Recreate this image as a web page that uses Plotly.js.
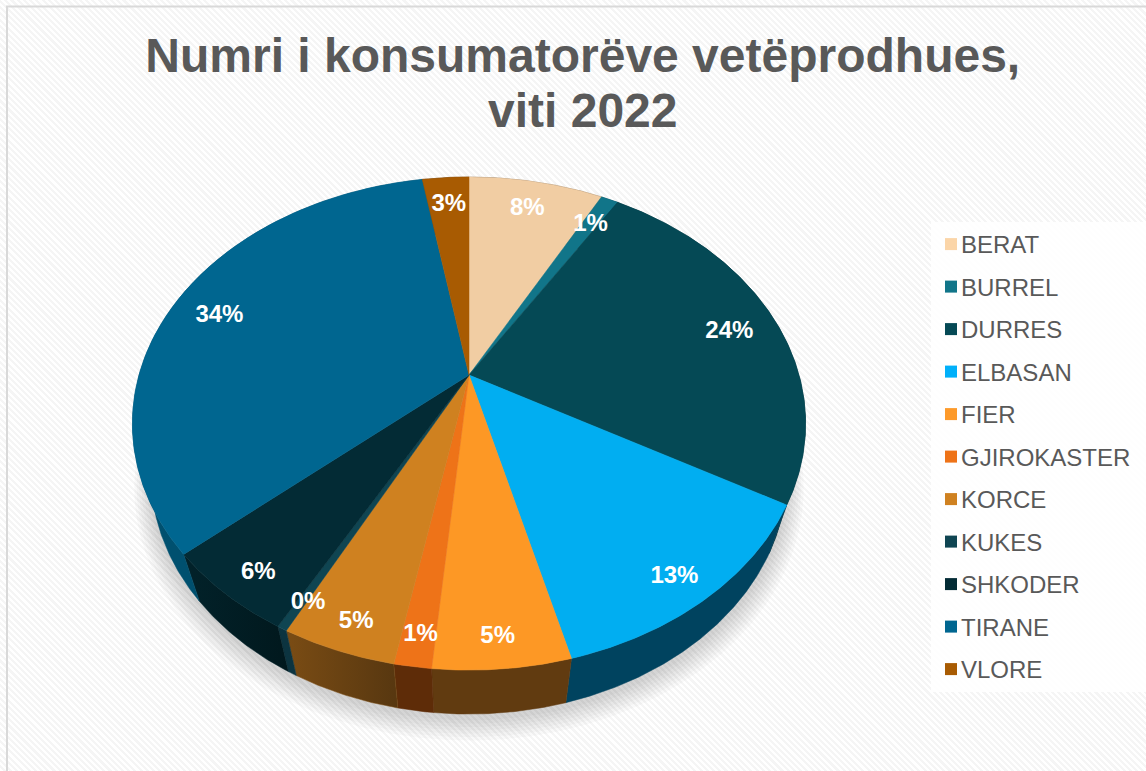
<!DOCTYPE html>
<html>
<head>
<meta charset="utf-8">
<script src="https://cdn.plot.ly/plotly-3.0.1.min.js"></script>
<style>
html,body{margin:0;padding:0;width:1146px;height:771px;overflow:hidden;
background:repeating-linear-gradient(45deg,#ffffff 0 2.2px,#f5f5f5 2.2px 4.4px);}
#chart{width:1146px;height:771px;}
</style>
</head>
<body>
<div id="chart"></div>
<script>
// ---- data ----
var categories = ['BERAT','BURREL','DURRES','ELBASAN','FIER','GJIROKASTER','KORCE','KUKES','SHKODER','TIRANE','VLORE'];
var shares = [7.8,1.0,24.4,12.7,5.49,1.49,4.6,0.4,5.6,33.7,2.7];
var percentLabels = ['8%','1%','24%','13%','5%','1%','5%','0%','6%','34%','3%'];
// ---- colours ----
var topColors = ['#F1CDA3','#117589','#054955','#01AEF1','#FD9825','#EE7318','#CF8120','#0F4552','#032B35','#006690','#A85B02'];
var legendColors = ['#FBD5A8','#117589','#054955','#00B0FA','#FD9A2A','#EE7318','#CF8120','#0F4552','#032B35','#006690','#A85B02'];
var wallColorsA = ['#7A6650','#0A3A44','#03303A','#00435F','#613B10','#5E2C08','#7A4C14','#0C3440','#02222A','#00506F','#5A3001'];
var wallColorsB = ['#7A6650','#0A3A44','#03303A','#00435F','#613B10','#5E2C08','#573710','#0C3440','#01181D','#00506F','#5A3001'];

// ---- perspective view of the disc ----
var view = {cx:469, cy:375, a:330, b:237, k:0.197, wallCy:426.6, wallSx:0.945, wallSy:0.974};
function project(theta, r){
  var u = r*Math.sin(theta), v = r*Math.cos(theta), d = 1 + view.k*v;
  return {X: view.a*u/d, Y: -view.b*v/d};
}
function topPt(theta, r){ var p = project(theta,r); return [view.cx+p.X, view.cy+p.Y]; }
function botPt(theta, grow, dy){
  var p = project(theta,1);
  return [view.cx+(view.wallSx*p.X)*(grow||1), view.wallCy+(view.wallSy*p.Y)*(grow||1)+(dy||0)];
}
function labelPt(theta){
  var p = project(theta,0.875);
  var xs = p.Y < 60 ? 0.97 : 1.01;
  return [view.cx+p.X*xs, view.cy+p.Y+6.5+Math.max(0,p.Y)*0.025];
}
function arc(t0,t1,fn){
  var n = Math.max(2, Math.ceil(Math.abs(t1-t0)/(Math.PI/360))), out=[];
  for(var i=0;i<=n;i++){ out.push(fn(t0+(t1-t0)*i/n)); }
  return out;
}
var total = shares.reduce(function(s,v){return s+v;},0);
var traces = [];

// soft shadow under the disc
for(var s=1;s<=7;s++){
  var ring = arc(0,2*Math.PI,function(t){return botPt(t,1+s*0.0075,3+s*1.2);});
  traces.push({type:'scatter',mode:'lines',x:ring.map(function(p){return p[0];}),y:ring.map(function(p){return p[1];}),
    fill:'toself',fillcolor:'rgba(0,0,0,0.024)',line:{width:0},hoverinfo:'skip',showlegend:false});
}

// side walls, then top faces
var cum = 0, bounds = [];
shares.forEach(function(v){ var a0=cum/total*2*Math.PI; cum+=v; bounds.push([a0,cum/total*2*Math.PI]); });

categories.forEach(function(name,i){
  var b = bounds[i];
  var pts = arc(b[0],b[1],function(t){return topPt(t,1);}).concat(arc(b[1],b[0],function(t){return botPt(t);}));
  pts.push(pts[0]);
  var tr = {type:'scatter',mode:'lines',x:pts.map(function(p){return p[0];}),y:pts.map(function(p){return p[1];}),
    fill:'toself',line:{width:0.5,color:wallColorsA[i]},hoverinfo:'skip',showlegend:false};
  if(wallColorsA[i]!==wallColorsB[i]){
    tr.fillgradient={type:'horizontal',colorscale:[[0,wallColorsA[i]],[1,wallColorsB[i]]]};
  } else { tr.fillcolor=wallColorsA[i]; }
  traces.push(tr);
});

categories.forEach(function(name,i){
  var b = bounds[i];
  var pts = [topPt(0,0)].concat(arc(b[0],b[1],function(t){return topPt(t,1);}));
  pts.push(pts[0]);
  traces.push({type:'scatter',mode:'lines',name:name,x:pts.map(function(p){return p[0];}),y:pts.map(function(p){return p[1];}),
    fill:'toself',fillcolor:topColors[i],line:{width:0.5,color:topColors[i]},
    hoveron:'fills',text:name+' '+percentLabels[i],hoverinfo:'text',showlegend:false});
});

// percentage labels
var labelPts = bounds.map(function(b){ return labelPt((b[0]+b[1])/2); });
traces.push({type:'scatter',mode:'text',x:labelPts.map(function(p){return p[0];}),y:labelPts.map(function(p){return p[1];}),
  text:percentLabels,textposition:'middle center',
  textfont:{family:'"Liberation Sans",Arial,sans-serif',size:24,color:'#ffffff',weight:700},
  hoverinfo:'skip',showlegend:false});

// legend entries
categories.forEach(function(name,i){
  traces.push({type:'scatter',mode:'markers',name:name,x:[null],y:[null],legendgroup:name,
    marker:{symbol:'square',size:15,color:legendColors[i]},hoverinfo:'skip'});
});

var layout = {
  width:1146,height:771,autosize:false,
  margin:{l:0,r:0,t:0,b:0,pad:0},
  paper_bgcolor:'rgba(0,0,0,0)',plot_bgcolor:'rgba(0,0,0,0)',
  title:{text:'Numri i konsumatorëve vetëprodhues,<br>viti 2022',
    font:{family:'"Liberation Sans",Arial,sans-serif',size:48,color:'#595959',weight:700},
    x:0.5085,xanchor:'center',y:0.907,yanchor:'middle'},
  xaxis:{range:[0,1146],visible:false,fixedrange:true},
  yaxis:{range:[771,0],visible:false,fixedrange:true},
  showlegend:true,
  legend:{x:931/1146,xanchor:'left',y:1-222/771,yanchor:'top',
    bgcolor:'rgba(255,255,255,0.85)',borderwidth:0,
    font:{family:'"Liberation Sans",Arial,sans-serif',size:24,color:'#595959'},
    traceorder:'grouped',tracegroupgap:8.3,itemsizing:'constant',itemclick:false,itemdoubleclick:false},
  shapes:[
    {type:'line',xref:'paper',yref:'paper',x0:0.0061,x1:0.0061,y0:0,y1:0.9915,line:{color:'#D9D9D9',width:2}},
    {type:'line',xref:'paper',yref:'paper',x0:0.0052,x1:1,y0:0.9915,y1:0.9915,line:{color:'#D9D9D9',width:2}}
  ]
};
Plotly.newPlot('chart',traces,layout,{displayModeBar:false}).then(function(gd){
  // tighten swatch-to-label distance as in the reference
  document.querySelectorAll('.legendtext').forEach(function(t){
    t.setAttribute('x', parseFloat(t.getAttribute('x'))-10);
  });
  // title line spacing as in the reference
  var lines = document.querySelectorAll('.gtitle tspan.line');
  if(lines.length>1){ lines[1].setAttribute('dy','55px'); }
});
</script>
</body>
</html>
